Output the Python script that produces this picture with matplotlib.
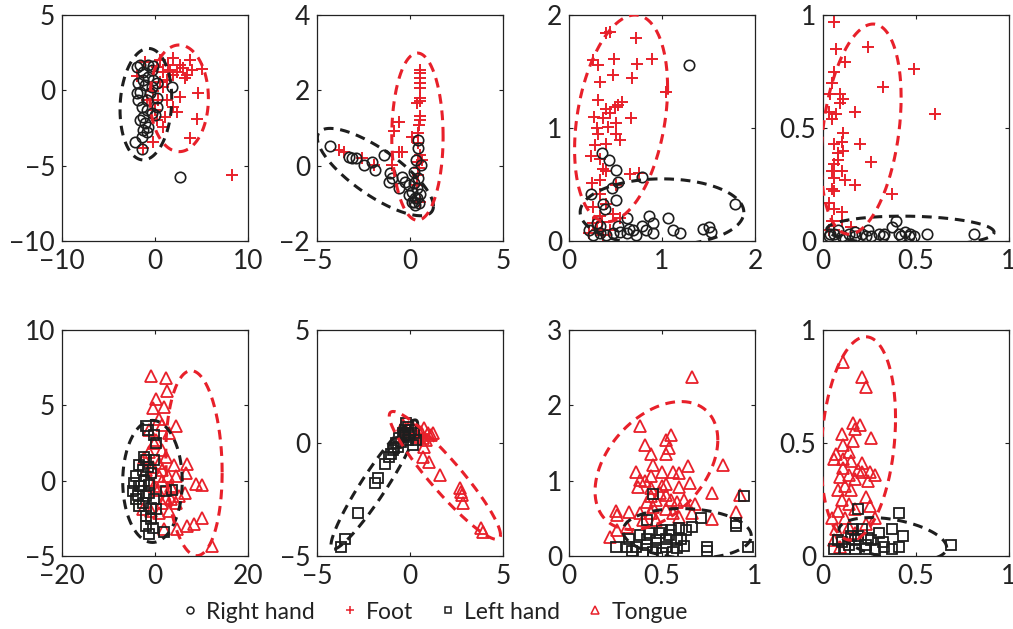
import numpy as np
import matplotlib
matplotlib.use("Agg")
import matplotlib.pyplot as plt
from matplotlib.lines import Line2D

plt.rcParams["font.family"] = ["Lato", "DejaVu Sans"]
plt.rcParams["font.size"] = 15

RED = "#e8202a"
BLACK = "#1e1e1e"

# ---- top row: Right hand (circles) vs Foot (plus) ----
p1_rh_x = [-1.97, -0.18, 1.79, 2.69, -2.15, -1.43, -0.9, -1.08, -1.25, 0.18, 0.0, 0.18, -1.61, -1.97,
           -0.9, -1.43, -0.72, -1.25, -1.61, -0.36, -0.18, -0.36, -1.79, -1.08, -0.54, -0.9, -1.61,
           -1.25, -1.43, -0.72, -0.36, -1.79, -1.25, -0.72, 0.18]
p1_rh_y = [1.57, 1.64, 0.2, -5.73, -3.41, -3.92, -2.74, -2.19, -1.75, -1.08, -1.64, -0.53, -0.09, -0.2,
           -0.64, -1.08, 0.91, 1.24, 1.68, 1.35, 0.69, 0.24, 0.46, 0.35, -0.2, -1.31, -1.97,
           -2.63, -3.08, -2.41, -1.53, -0.64, 0.69, 1.68, 0.46]
p1_ft_x = [0.54, 1.97, 2.69, 3.76, 5.02, 3.95, 3.41, 2.33, 1.61, 0.9, -1.97, -1.08, 0.54, 1.25, 0.9,
           4.66, 2.69, 1.97, 2.33, 1.08, 0.9, 4.48, 3.76, -0.18, -1.25, 0.18, 0.36, 1.25, -0.18,
           3.05, 3.23, -0.9, 0.0, 8.32, 1.97, 1.43, 0.18]
p1_ft_y = [2.01, 2.12, 1.68, 2.01, 1.39, 1.35, 1.02, 1.24, 1.35, 1.24, 0.95, 1.9, 0.57, 0.69, 0.24,
           -0.2, -0.42, -1.08, -1.42, -1.75, -2.41, -1.92, -3.19, -3.41, -3.85, -1.97, -0.64, -0.64, -0.02,
           1.46, 0.8, -0.64, -1.31, -5.62, 1.02, 1.68, 1.57]

p2_rh_x = [-4.3, -3.11, -2.93, -2.49, -2.04, -1.9, -1.42, -1.06, -1.15, -0.97, -0.61, -0.44, -0.08,
           0.1, 0.28, 0.19, 0.37, 0.45, 0.42, 0.33, 0.24, 0.45, 0.19, 0.37, 0.54, 0.1, 0.28, 0.49,
           0.6, -3.29, -0.26, -0.08]
p2_rh_y = [0.53, 0.2, 0.2, 0.02, 0.11, -0.12, 0.28, -0.2, -0.43, -0.34, -0.6, -0.29, -0.52,
           -0.69, -0.87, -0.96, -0.87, 0.68, 0.46, 0.15, -0.16, -0.34, -0.47, -0.6, -0.74, -0.96, -1.05, -1.0,
           0.02, 0.24, -0.43, -0.78]
p2_ft_x = [0.54, 0.54, 0.54, 0.54, 0.54, 0.54, 0.54, 0.37, 0.54, 0.54, 0.51, 0.45, 0.1, -0.61, -0.88,
           -0.61, -0.44, -0.97, -3.82, -3.56, -2.58, -1.95, 0.45, 0.51, 0.45, 0.54, 0.37, 0.54, 0.45, 0.63]
p2_ft_y = [2.55, 2.46, 2.33, 2.2, 2.06, 1.8, 1.71, 1.66, 1.31, 1.22, 1.08, 0.86, 0.77, 1.17, 0.91,
           0.37, 0.37, 0.02, 0.42, 0.37, 0.2, 0.02, 0.11, -0.07, -0.25, 0.28, -0.52, -0.96, 0.6, 0.15]

p3_rh_x = [1.29, 0.36, 0.43, 0.51, 0.79, 0.53, 0.46, 0.24, 0.5, 0.37, 0.39, 1.79, 0.86, 1.06, 0.62,
           0.9, 1.12, 1.19, 1.44, 1.51, 1.53, 0.72, 0.83, 0.9, 0.33, 0.4, 0.47, 0.55, 0.62, 0.22, 0.3,
           0.53, 0.69, 0.26, 0.79, 0.64, 0.33]
p3_rh_y = [1.56, 0.78, 0.72, 0.63, 0.57, 0.52, 0.47, 0.42, 0.36, 0.33, 0.28, 0.33, 0.22, 0.2, 0.2,
           0.16, 0.1, 0.07, 0.11, 0.12, 0.08, 0.05, 0.1, 0.07, 0.07, 0.05, 0.07, 0.08, 0.07, 0.1, 0.16,
           0.13, 0.1, 0.05, 0.13, 0.11, 0.13]
p3_ft_x = [0.4, 0.44, 0.72, 0.26, 0.31, 0.48, 0.73, 0.89, 0.47, 0.33, 0.68, 1.04, 0.31, 0.4, 0.49,
           0.57, 0.53, 0.27, 0.37, 0.44, 0.67, 0.3, 0.42, 0.51, 0.31, 0.51, 0.55, 0.28, 0.4, 0.24, 0.33,
           0.37, 0.4, 0.66, 0.75, 0.25, 0.33, 0.51, 0.33, 0.26, 0.4, 0.47, 0.33, 0.55, 0.3, 0.22, 0.37,
           0.44, 0.26, 0.35]
p3_ft_y = [1.84, 1.85, 1.8, 1.6, 1.56, 1.61, 1.57, 1.61, 1.47, 1.41, 1.44, 1.32, 1.25, 1.17, 1.19,
           1.23, 1.2, 1.1, 1.09, 1.13, 1.09, 1.0, 1.01, 1.04, 0.95, 0.95, 0.89, 0.85, 0.86, 0.75, 0.73,
           0.64, 0.62, 0.59, 0.6, 0.51, 0.54, 0.5, 0.42, 0.3, 0.33, 0.24, 0.22, 0.2, 0.1, 0.07, 0.05,
           0.1, 0.16, 0.17]

p4_rh_x = [0.03, 0.06, 0.1, 0.14, 0.17, 0.21, 0.24, 0.26, 0.3, 0.33, 0.37, 0.39, 0.41, 0.44, 0.47,
           0.49, 0.56, 0.81, 0.08, 0.17, 0.23, 0.32, 0.42, 0.46, 0.12, 0.04]
p4_rh_y = [0.02, 0.03, 0.02, 0.03, 0.02, 0.03, 0.05, 0.02, 0.03, 0.03, 0.06, 0.09, 0.03, 0.04, 0.03,
           0.02, 0.03, 0.03, 0.05, 0.04, 0.02, 0.02, 0.02, 0.02, 0.01, 0.03]
p4_ft_x = [0.06, 0.07, 0.24, 0.12, 0.06, 0.05, 0.49, 0.32, 0.04, 0.09, 0.11, 0.09, 0.03, 0.07, 0.17,
           0.6, 0.05, 0.06, 0.1, 0.2, 0.11, 0.08, 0.06, 0.26, 0.05, 0.1, 0.06, 0.12, 0.17, 0.05, 0.37,
           0.03, 0.06, 0.1, 0.05, 0.1, 0.15, 0.03, 0.06, 0.08, 0.06, 0.11]
p4_ft_y = [0.97, 0.85, 0.86, 0.79, 0.75, 0.7, 0.76, 0.68, 0.65, 0.65, 0.63, 0.61, 0.57, 0.56, 0.57,
           0.56, 0.54, 0.43, 0.44, 0.43, 0.4, 0.39, 0.34, 0.35, 0.31, 0.31, 0.28, 0.27, 0.25, 0.23, 0.21,
           0.17, 0.14, 0.13, 0.09, 0.09, 0.06, 0.05, 0.05, 0.36, 0.22, 0.48]

# ---- bottom row: Left hand (squares) vs Tongue (triangles) ----
p5_lh_x = [-1.96, -1.6, -0.18, 0.18, -1.96, -0.18, -3.39, -2.67, -0.89, -4.1, -2.32, -3.39, -1.25,
           -4.81, -3.74, -1.96, 2.32, 3.74, -4.1, -2.67, -0.89, 0.18, -1.96, -0.89, -1.96, -0.53, -1.25,
           1.96, -3.03, -4.46, -1.25, -0.18, -3.39, -1.6, -2.32]
p5_lh_y = [3.62, 3.36, 3.03, 2.48, 1.38, 1.34, 1.05, 0.72, 0.5, 0.29, -0.04, -0.37, -0.26,
           -0.7, -0.92, -1.03, -0.7, -0.64, -1.25, -1.47, -1.8, -1.91, -2.35, -2.57, -3.0, -3.11, -3.55,
           -3.44, -0.37, -0.15, -0.81, -1.25, -1.69, 0.94, 1.6]
p5_tg_x = [-0.89, 2.32, 2.67, 0.32, -0.53, 1.96, 0.89, 1.46, 4.6, 3.03, -1.25, -0.18, 1.6, -1.25, -2.32,
           0.89, 4.1, 6.95, 1.6, 2.89, 4.46, 6.6, -1.25, 0.89, 8.74, 10.16, 3.74, 6.45, 0.6, 2.32, 3.39,
           5.17, -2.67, -0.89, 0.89, 3.03, 10.16, 8.38, 6.95, 4.81, 1.96, 12.3, 1.6, -0.18, 3.39, -1.96,
           -0.53, 2.32, 0.32, 4.6, 1.6]
p5_tg_y = [6.97, 6.82, 5.94, 5.44, 4.85, 4.89, 4.12, 3.68, 3.62, 3.14, 3.36, 2.48, 2.04, 1.93, 1.49,
           1.16, 1.05, 1.1, 0.72, 0.33, 0.29, 0.5, 0.07, 0.29, -0.22, -0.28, -0.48, -0.81, -0.59, -1.14, -1.25,
           -1.03, -1.86, -2.02, -2.13, -2.02, -2.46, -2.89, -3.0, -3.18, -3.22, -4.32, -0.04, -0.37, -0.37, 0.72,
           0.94, 1.6, 2.7, -1.47, -1.47]

p6_lh_x = [-3.71, -3.48, -2.78, -1.88, -1.7, -1.34, -1.02, -0.93, -0.75, -0.57, -0.39, -0.27, -0.12,
           -0.22, 0.05, 0.14, -0.66, -0.3, -0.03, 0.23, 0.32, -0.48, -0.84, -1.11, -0.12, -0.27]
p6_lh_y = [-4.59, -4.26, -3.11, -1.78, -1.53, -0.94, -0.49, -0.31, -0.01, 0.21, 0.43, 0.58, 0.72,
           0.87, 0.58, -0.08, -0.16, 0.28, 0.35, 0.43, 0.13, 0.06, -0.24, -0.6, 0.13, 0.35]
p6_tg_x = [-0.39, -0.12, 0.14, 0.41, 0.59, 0.77, 0.95, 1.13, 0.32, 0.68, 0.77, 0.68, 1.04, 1.63, 2.71,
           2.78, 2.83, 3.82, 3.91, 0.05, 0.5, 0.86, -0.21, 1.22, 2.74]
p6_tg_y = [0.8, 0.65, 0.65, 0.58, 0.5, 0.65, 0.43, 0.35, 0.35, 0.21, -0.16, -0.6, -0.83, -1.42, -2.01,
           -2.3, -2.67, -3.78, -3.92, 0.43, 0.28, 0.13, 0.43, 0.43, -2.15]

p7_lh_x = [0.45, 0.94, 0.71, 0.9, 0.9, 0.42, 0.66, 0.63, 0.59, 0.55, 0.5, 0.49, 0.38, 0.32, 0.42,
           0.47, 0.52, 0.58, 0.6, 0.25, 0.31, 0.36, 0.42, 0.47, 0.52, 0.58, 0.62, 0.74, 0.74, 0.96, 0.34,
           0.4, 0.45, 0.5, 0.56, 0.43, 0.54]
p7_lh_y = [0.82, 0.79, 0.5, 0.44, 0.4, 0.48, 0.39, 0.35, 0.37, 0.35, 0.35, 0.3, 0.28, 0.22, 0.23,
           0.21, 0.23, 0.21, 0.23, 0.12, 0.12, 0.12, 0.15, 0.1, 0.12, 0.1, 0.13, 0.12, 0.07, 0.12, 0.06,
           0.04, 0.05, 0.04, 0.05, 0.3, 0.28]
p7_tg_x = [0.66, 0.38, 0.55, 0.52, 0.41, 0.54, 0.44, 0.52, 0.45, 0.83, 0.64, 0.36, 0.5, 0.56, 0.59,
           0.44, 0.38, 0.41, 0.65, 0.52, 0.37, 0.44, 0.5, 0.77, 0.92, 0.44, 0.49, 0.52, 0.42, 0.47, 0.55,
           0.58, 0.62, 0.68, 0.25, 0.32, 0.38, 0.44, 0.52, 0.59, 0.66, 0.9, 0.77, 0.26, 0.4, 0.47, 0.31,
           0.26, 0.22, 0.56, 0.45, 0.59]
p7_tg_y = [2.38, 1.73, 1.61, 1.54, 1.47, 1.43, 1.36, 1.35, 1.21, 1.21, 1.19, 1.12, 1.12, 1.11, 1.1,
           1.06, 1.01, 0.99, 0.97, 0.96, 0.92, 0.9, 0.93, 0.83, 0.81, 0.79, 0.83, 0.81, 0.72, 0.74, 0.74,
           0.72, 0.74, 0.69, 0.6, 0.59, 0.57, 0.57, 0.62, 0.52, 0.57, 0.58, 0.49, 0.54, 0.48, 0.48, 0.39,
           0.35, 0.25, 0.57, 0.65, 0.91]

p8_lh_x = [0.19, 0.41, 0.37, 0.43, 0.69, 0.41, 0.3, 0.26, 0.23, 0.17, 0.14, 0.1, 0.06, 0.12, 0.17,
           0.23, 0.28, 0.33, 0.37, 0.19, 0.16, 0.24, 0.32, 0.08, 0.15, 0.21]
p8_lh_y = [0.21, 0.19, 0.12, 0.09, 0.05, 0.04, 0.1, 0.07, 0.05, 0.07, 0.05, 0.06, 0.03, 0.03, 0.03,
           0.03, 0.03, 0.04, 0.03, 0.09, 0.12, 0.08, 0.06, 0.07, 0.09, 0.12]
p8_tg_x = [0.11, 0.21, 0.23, 0.16, 0.2, 0.1, 0.17, 0.26, 0.11, 0.16, 0.07, 0.14, 0.06, 0.11, 0.15,
           0.21, 0.19, 0.25, 0.28, 0.09, 0.14, 0.17, 0.24, 0.12, 0.08, 0.15, 0.23, 0.1, 0.14, 0.25, 0.08,
           0.17, 0.05, 0.12, 0.28, 0.07, 0.14, 0.23, 0.06, 0.09, 0.17, 0.11, 0.21]
p8_tg_y = [0.86, 0.79, 0.75, 0.59, 0.58, 0.54, 0.56, 0.52, 0.49, 0.51, 0.45, 0.46, 0.43, 0.43, 0.42,
           0.41, 0.38, 0.37, 0.36, 0.35, 0.36, 0.34, 0.33, 0.31, 0.29, 0.29, 0.26, 0.25, 0.23, 0.22, 0.2,
           0.21, 0.17, 0.17, 0.17, 0.12, 0.13, 0.14, 0.07, 0.04, 0.1, 0.39, 0.37]

# class ellipses: (centre x, centre y, half-width x, half-height y, correlation)
p1_ell = [(-0.98, -0.92, 2.78, 3.7, 0.1), (2.6, -0.53, 3.14, 3.54, 0.0)]
p2_ell = [(-1.86, -0.17, 3.12, 1.16, -0.78), (0.4, 0.77, 1.38, 2.22, 0.0)]
p3_ell = [(1.0, 0.255, 0.88, 0.295, 0.0), (0.56, 1.085, 0.5, 0.915, 0.3)]
p4_ell = [(0.47, 0.045, 0.45, 0.065, -0.1), (0.205, 0.495, 0.215, 0.465, 0.3)]
p5_ell = [(-0.54, -0.05, 6.4, 4.05, 0.0), (8.38, 1.16, 6.06, 6.14, -0.1)]
p6_ell = [(-1.92, -1.84, 2.33, 2.86, 0.94), (1.875, -1.435, 2.99, 2.83, -0.93)]
p7_ell = [(0.635, 0.3, 0.345, 0.33, -0.1), (0.47, 1.2, 0.33, 0.85, 0.4)]
p8_ell = [(0.375, 0.075, 0.29, 0.095, -0.4), (0.19, 0.52, 0.2, 0.45, 0.2)]

p1_lim = ((-10, 10), (-10, 5), [-10, 0, 10], [-10, -5, 0, 5])
p2_lim = ((-5, 5), (-2, 4), [-5, 0, 5], [-2, 0, 2, 4])
p3_lim = ((0, 2), (0, 2), [0, 1, 2], [0, 1, 2])
p4_lim = ((0, 1), (0, 1), [0, 0.5, 1], [0, 0.5, 1])
p5_lim = ((-20, 20), (-5, 10), [-20, 0, 20], [-5, 0, 5, 10])
p6_lim = ((-5, 5), (-5, 5), [-5, 0, 5], [-5, 0, 5])
p7_lim = ((0, 1), (0, 3), [0, 0.5, 1], [0, 1, 2, 3])
p8_lim = ((0, 1), (0, 1), [0, 0.5, 1], [0, 0.5, 1])

legend_labels = ["Right hand", "Foot", "Left hand", "Tongue"]


def fmt(v):
    s = "%g" % v
    return s.replace("-", "\u2212")


def draw_ellipse(ax, ell, color):
    cx, cy, hx, hy, rho = ell
    t = np.linspace(0, 2 * np.pi, 300)
    ex = cx + hx * np.cos(t)
    ey = cy + hy * (rho * np.cos(t) + np.sqrt(1 - rho ** 2) * np.sin(t))
    ax.plot(ex, ey, color=color, lw=2.2, ls=(0, (3.2, 2.2)), zorder=3)


def setup_axes(ax, lim):
    xl, yl, xt, yt = lim
    ax.set_xlim(xl)
    ax.set_ylim(yl)
    ax.set_xticks(xt)
    ax.set_yticks(yt)
    ax.set_xticklabels([fmt(v) for v in xt])
    ax.set_yticklabels([fmt(v) for v in yt])
    ax.tick_params(direction="in", top=True, right=True, length=3, width=0.8,
                   labelsize=19, colors="#222222")
    ax.tick_params(axis="y", pad=5)
    ax.tick_params(axis="x", pad=6)
    for sp in ax.spines.values():
        sp.set_linewidth(0.9)
        sp.set_color("#222222")


fig = plt.figure(figsize=(10.13, 6.29), dpi=100)
lefts = [62 / 1013, 317 / 1013, 569 / 1013, 823 / 1013]
w = 186 / 1013
h = 226 / 629
top_b = 1 - 241 / 629
bot_b = 1 - 556 / 629

top_panels = [
    (p1_rh_x, p1_rh_y, p1_ft_x, p1_ft_y, p1_ell, p1_lim),
    (p2_rh_x, p2_rh_y, p2_ft_x, p2_ft_y, p2_ell, p2_lim),
    (p3_rh_x, p3_rh_y, p3_ft_x, p3_ft_y, p3_ell, p3_lim),
    (p4_rh_x, p4_rh_y, p4_ft_x, p4_ft_y, p4_ell, p4_lim),
]
bottom_panels = [
    (p5_lh_x, p5_lh_y, p5_tg_x, p5_tg_y, p5_ell, p5_lim),
    (p6_lh_x, p6_lh_y, p6_tg_x, p6_tg_y, p6_ell, p6_lim),
    (p7_lh_x, p7_lh_y, p7_tg_x, p7_tg_y, p7_ell, p7_lim),
    (p8_lh_x, p8_lh_y, p8_tg_x, p8_tg_y, p8_ell, p8_lim),
]

for i, (bx, by, rx, ry, ell, lim) in enumerate(top_panels):
    ax = fig.add_axes([lefts[i], top_b, w, h])
    ax.plot(rx, ry, ls="none", marker="+", ms=8, mew=1.4, color=RED, zorder=2)
    ax.plot(bx, by, ls="none", marker="o", ms=7.5, mew=1.2, mfc="none", color=BLACK, zorder=2)
    draw_ellipse(ax, ell[0], BLACK)
    draw_ellipse(ax, ell[1], RED)
    setup_axes(ax, lim)

for i, (bx, by, rx, ry, ell, lim) in enumerate(bottom_panels):
    ax = fig.add_axes([lefts[i], bot_b, w, h])
    ax.plot(rx, ry, ls="none", marker="^", ms=8, mew=1.3, mfc="none", color=RED, zorder=2)
    ax.plot(bx, by, ls="none", marker="s", ms=6.5, mew=1.3, mfc="none", color=BLACK, zorder=2)
    draw_ellipse(ax, ell[0], BLACK)
    draw_ellipse(ax, ell[1], RED)
    setup_axes(ax, lim)

handles = [
    Line2D([], [], ls="none", marker="o", ms=5, mew=1.1, mfc="none", color=BLACK),
    Line2D([], [], ls="none", marker="+", ms=6, mew=1.1, color=RED),
    Line2D([], [], ls="none", marker="s", ms=4.5, mew=1.1, mfc="none", color=BLACK),
    Line2D([], [], ls="none", marker="^", ms=6, mew=1.1, mfc="none", color=RED),
]
fig.legend(handles, legend_labels, loc="center", bbox_to_anchor=(0.43, 0.027), ncol=4,
           frameon=False, fontsize=16.5, handlelength=0.6, handletextpad=0.4,
           columnspacing=1.23, labelcolor="#222222", borderpad=0.1)

fig.savefig("out.png", dpi=100)
